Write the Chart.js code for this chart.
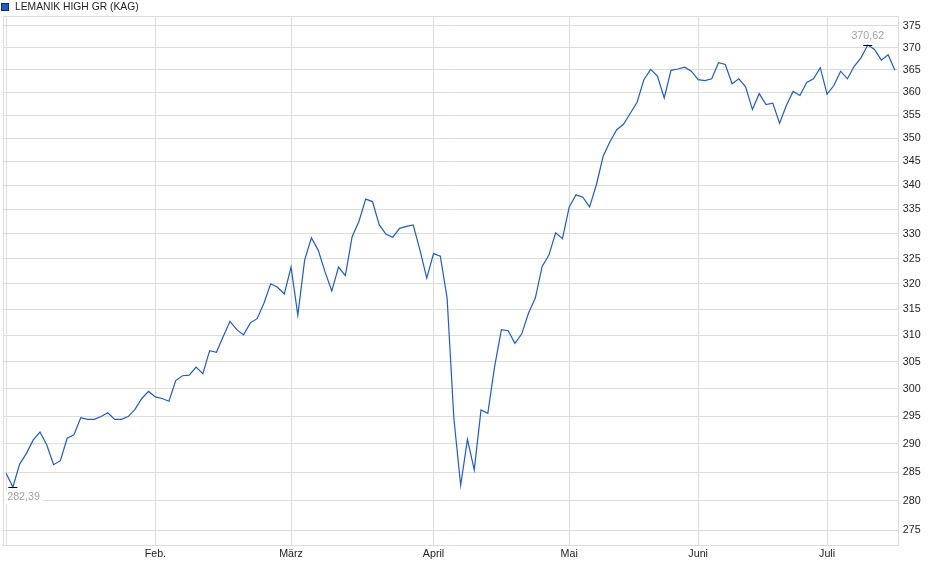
<!DOCTYPE html>
<html>
<head>
<meta charset="utf-8">
<script src="https://cdn.jsdelivr.net/npm/chart.js@4.4.1/dist/chart.umd.min.js"></script>
<style>
  html, body { margin: 0; padding: 0; background: #fff; }
  #wrap { width: 940px; height: 579px; position: relative; }
</style>
</head>
<body>
<div id="wrap"><canvas id="c" width="940" height="579"></canvas></div>
<script>
const seriesName = 'LEMANIK HIGH GR (KAG)';

const monthNames = ['', 'Feb.', 'März', 'April', 'Mai', 'Juni', 'Juli'];
const monthStart = [0, 22, 42, 63, 83, 102, 121];

const yTicks = [275, 280, 285, 290, 295, 300, 305, 310, 315, 320, 325,
                330, 335, 340, 345, 350, 355, 360, 365, 370, 375];

const values = [
  284.8, 282.39, 286.4, 288.3, 290.7, 292.1, 289.8, 286.3, 287.0, 291.0,
  291.6, 294.7, 294.4, 294.4, 294.9, 295.6, 294.4, 294.4, 294.9, 296.2,
  298.2, 299.5, 298.5, 298.2, 297.7, 301.5, 302.4, 302.5, 304.0, 302.8,
  307.1, 306.8, 309.8, 312.7, 311.1, 310.1, 312.4, 313.2, 316.2, 320.0,
  319.3, 318.0, 323.3, 313.9, 324.7, 329.2, 326.7, 322.4, 318.6, 323.3,
  321.6, 329.4, 332.5, 337.1, 336.6, 331.8, 329.9, 329.3, 331.1, 331.5,
  331.8, 326.7, 321.1, 326.0, 325.5, 317.2, 294.5, 282.7, 290.8, 285.4,
  296.1, 295.5, 304.1, 311.1, 310.9, 308.5, 310.3, 314.3, 317.2, 323.4,
  325.7, 330.2, 329.0, 335.5, 338.0, 337.5, 335.5, 340.1, 346.1, 349.2,
  351.8, 353.0, 355.4, 357.8, 362.8, 365.1, 363.6, 358.75, 364.9, 365.2,
  365.6, 364.7, 362.8, 362.6, 363.0, 366.6, 366.2, 361.9, 363.0, 361.2,
  356.2, 359.7, 357.3, 357.6, 353.2, 357.1, 360.2, 359.3, 362.2, 363.0,
  365.5, 359.6, 361.5, 364.7, 363.0, 365.8, 367.7, 370.62, 369.6, 367.2,
  368.4, 364.9
];

const labels = values.map((_, i) => {
  const k = monthStart.indexOf(i);
  return k >= 0 ? monthNames[k] : '';
});

const lineColor = '#1f5cc6';
const gridColor = '#dcdcdc';
const FONT = 'Arial, "Liberation Sans", Helvetica, sans-serif';
const TICK_SIZE = 10.7;

const fmt = v => v.toFixed(2).replace('.', ',');

const decorPlugin = {
  id: 'decor',
  beforeDatasetsDraw(chart) {
    const { ctx, chartArea: a } = chart;
    ctx.save();
    ctx.strokeStyle = gridColor;
    ctx.lineWidth = 1;
    ctx.beginPath();
    ctx.moveTo(Math.round(a.left) + 0.5, Math.round(a.bottom));
    ctx.lineTo(Math.round(a.left) + 0.5, Math.round(a.top) + 0.5);
    ctx.lineTo(Math.round(a.right), Math.round(a.top) + 0.5);
    ctx.stroke();
    ctx.restore();
  },
  afterDatasetsDraw(chart) {
    const { ctx, chartArea: a } = chart;
    const meta = chart.getDatasetMeta(0);
    const data = chart.data.datasets[0].data;
    let iMax = 0, iMin = 0;
    data.forEach((v, i) => { if (v > data[iMax]) iMax = i; if (v < data[iMin]) iMin = i; });
    ctx.save();
    ctx.font = TICK_SIZE + 'px ' + FONT;
    ctx.textBaseline = 'middle';
    // max
    const pM = meta.data[iMax];
    ctx.strokeStyle = '#000';
    ctx.lineWidth = 1;
    ctx.beginPath();
    ctx.moveTo(pM.x - 4.5, Math.round(pM.y) + 0.5);
    ctx.lineTo(pM.x + 4.5, Math.round(pM.y) + 0.5);
    ctx.stroke();
    let t = fmt(data[iMax]);
    let w = ctx.measureText(t).width;
    let tx = Math.min(Math.max(pM.x - w / 2, a.left + 4), a.right - w - 2);
    ctx.fillStyle = '#a3a3a3';
    ctx.fillText(t, tx, pM.y - 8.5);
    // min
    const pm = meta.data[iMin];
    ctx.beginPath();
    ctx.moveTo(pm.x - 4.5, Math.round(pm.y) + 0.5);
    ctx.lineTo(pm.x + 4.5, Math.round(pm.y) + 0.5);
    ctx.stroke();
    t = fmt(data[iMin]);
    w = ctx.measureText(t).width;
    tx = Math.min(Math.max(pm.x - w / 2, a.left + 4.5), a.right - w - 2);
    ctx.fillStyle = '#fff';
    ctx.fillRect(tx - 3, pm.y + 4, w + 6, 13);
    ctx.fillStyle = '#a3a3a3';
    ctx.fillText(t, tx, pm.y + 10.5);
    ctx.restore();
  },
  afterDraw(chart) {
    const { ctx } = chart;
    const ds = chart.data.datasets[0];
    ctx.save();
    ctx.fillStyle = ds.borderColor;
    ctx.fillRect(1.5, 3.5, 7, 7);
    ctx.strokeStyle = '#0e2f6e';
    ctx.lineWidth = 1;
    ctx.strokeRect(1.5, 3.5, 7, 7);
    ctx.font = '10.3px ' + FONT;
    ctx.fillStyle = '#222';
    ctx.textBaseline = 'middle';
    ctx.fillText(ds.label, 15, 7);
    ctx.restore();
  }
};

new Chart(document.getElementById('c'), {
  type: 'line',
  data: {
    labels: labels,
    datasets: [{
      label: seriesName,
      data: values,
      borderColor: lineColor,
      backgroundColor: lineColor,
      borderWidth: 1.2,
      pointRadius: 0,
      pointHoverRadius: 0,
      tension: 0,
      fill: false
    }]
  },
  options: {
    responsive: false,
    animation: false,
    events: [],
    layout: { padding: { top: 16, left: 2.7, right: 0, bottom: 0 } },
    plugins: {
      legend: { display: false },
      tooltip: { enabled: false }
    },
    scales: {
      x: {
        type: 'category',
        offset: true,
        grid: { offset: false, color: gridColor, drawTicks: false, lineWidth: 1 },
        border: { display: true, color: gridColor },
        afterBuildTicks(scale) {
          scale.ticks = monthStart.map(i => ({ value: i }));
        },
        afterFit(scale) { scale.height = 34; },
        ticks: {
          autoSkip: false,
          maxRotation: 0,
          padding: 3,
          color: '#222',
          font: { family: FONT, size: TICK_SIZE },
          callback(value) { return labels[value]; }
        }
      },
      y: {
        type: 'logarithmic',
        position: 'right',
        bounds: 'data',
        min: 272.5,
        max: 377.3,
        grid: { color: gridColor, drawTicks: false, lineWidth: 1 },
        border: { display: true, color: gridColor },
        afterBuildTicks(scale) {
          scale.ticks = yTicks.map(v => ({ value: v }));
        },
        afterFit(scale) { scale.width = 41.7; },
        ticks: {
          padding: 4.5,
          color: '#222',
          font: { family: FONT, size: TICK_SIZE },
          callback(value) { return String(value); }
        }
      }
    }
  },
  plugins: [decorPlugin]
});
</script>
</body>
</html>
